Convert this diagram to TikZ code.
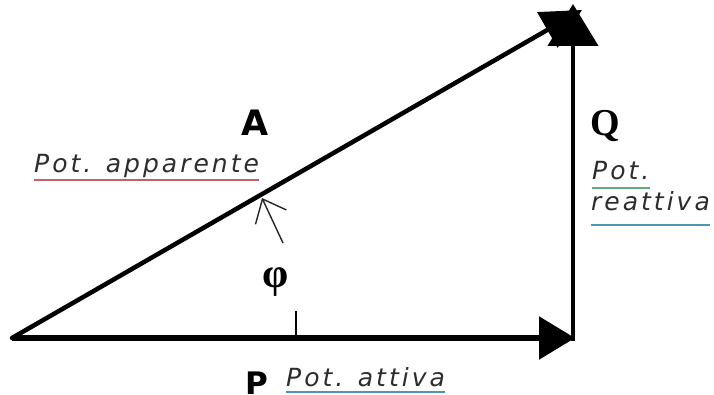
\documentclass[tikz,border=0pt]{standalone}
\usepackage{fontspec}
\setmainfont{DejaVu Sans}
\newfontfamily\potfont[LetterSpace=12]{DejaVu Sans}
\newfontfamily\serifbold{Liberation Serif}
\usetikzlibrary{arrows.meta}
\definecolor{ulred}{RGB}{196,96,108}
\definecolor{ulgreen}{RGB}{96,170,120}
\definecolor{ulblue}{RGB}{80,150,180}
\definecolor{txt}{RGB}{45,45,45}
\tikzset{
  vec/.style={line width=4.5pt, black},
  pot/.style={inner sep=0pt, anchor=base west, text=txt, font=\potfont\itshape\fontsize{25}{25}\selectfont},
  bigsans/.style={inner sep=0pt, anchor=base west, font=\bfseries\fontsize{35}{35}\selectfont},
  uline/.style={line width=2pt},
}
\begin{document}
\begin{tikzpicture}[x=1pt,y=-1pt]
\path[use as bounding box, clip] (0,0) rectangle (714,395);
\fill[white] (0,0) rectangle (714,395);
% vertices
\coordinate (O) at (12,338);
\coordinate (Pend) at (575,338);
\coordinate (Qbot) at (573,341);
\coordinate (Qtop) at (573,4);
\coordinate (Atop) at (582,10);
\coordinate (tick) at (296,338);
\coordinate (tickt) at (296,311);
\coordinate (phitip) at (262,198);
\coordinate (phitail) at (283,243);
% vectors
\draw[vec, line width=5.5pt, -{Triangle[length=36pt,width=42pt]}] (O) -- (Pend);
\draw[vec, -{Triangle[length=42pt,width=50pt]}] (Qbot) -- (Qtop);
\draw[vec, line cap=round, -{Triangle[length=40pt,width=40pt]}] (O) -- (Atop);
% tick and small arrow
\draw[line width=1.5pt] (tick) -- (tickt);
\draw[line width=1.4pt, black!85, -{Straight Barb[length=20pt,width=34pt]}] (phitail) -- (phitip);
% labels
\node[bigsans] (A) at (241,136) {A};
\node[inner sep=0pt, anchor=base west, font=\serifbold\bfseries\fontsize{38}{38}\selectfont] (Q) at (590,136) {Q};
\node[bigsans, font=\bfseries\fontsize{31}{31}\selectfont] (P) at (245,394) {P};
\node[inner sep=0pt, font=\serifbold\bfseries\fontsize{42}{42}\selectfont] (phi) at (276,282) {φ};
\node[pot] (app) at (34,173) {Pot. apparente};
\node[pot] (pot1) at (592,180) {Pot.};
\node[pot] (reat) at (591,211) {reattiva};
\node[pot] (att) at (286,386) {Pot. attiva};
% underlines
\draw[uline, ulred] ([yshift=-7pt]app.base west) -- ([yshift=-7pt]app.base east);
\draw[uline, ulgreen] ([yshift=-8pt]pot1.base west) -- ([yshift=-8pt]pot1.base east);
\draw[uline, ulblue] ([yshift=-14pt]reat.base west) -- ([yshift=-14pt]reat.base east);
\draw[uline, ulblue] ([yshift=-6pt]att.base west) -- ([yshift=-6pt]att.base east);
\end{tikzpicture}
\end{document}
